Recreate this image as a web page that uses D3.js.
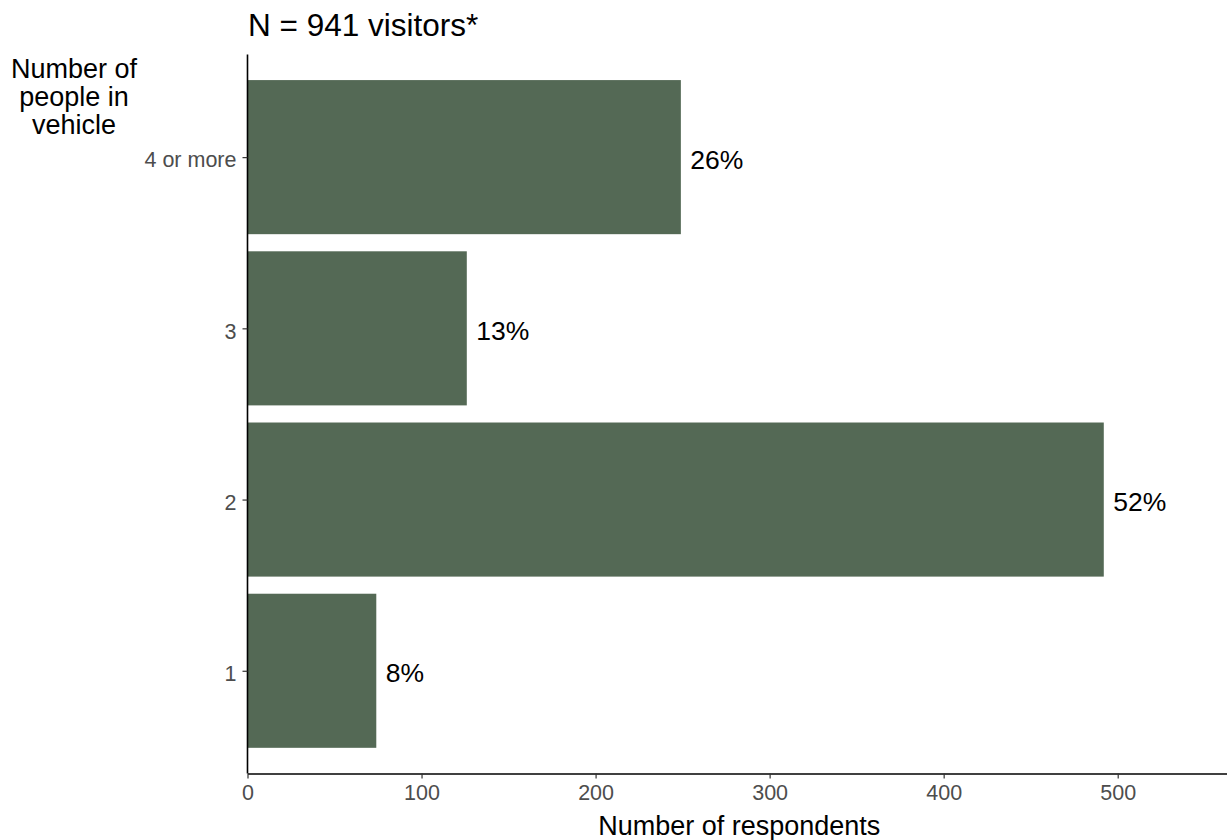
<!DOCTYPE html>
<html>
<head>
<meta charset="utf-8">
<script src="https://cdn.jsdelivr.net/npm/d3@7"></script>
<style>
  html, body { margin: 0; padding: 0; background: #fff; }
  svg { display: block; font-family: "Liberation Sans", Arial, sans-serif; }
</style>
</head>
<body>
<svg id="chart" width="1227" height="840"></svg>
<script>
const categories = ["4 or more", "3", "2", "1"];
const counts = [249, 126, 492, 74];
const percentLabels = ["26%", "13%", "52%", "8%"];
const xTicks = [0, 100, 200, 300, 400, 500];
const titleText = "N = 941 visitors*";
const yTitleLines = ["Number of", "people in", "vehicle"];
const xTitleText = "Number of respondents";

const svg = d3.select("#chart");
const plotLeft = 247.5, plotRight = 1227, plotTop = 54.4, plotBottom = 773.5;

const x = d3.scaleLinear().domain([0, 562.8]).range([plotLeft, plotRight]);
// ggplot-like discrete axis: 0.6 unit expansion each side, bar width 0.9
const n = categories.length;
const step = (plotBottom - plotTop) / (n - 1 + 1.2);
const yCenter = d3.scalePoint().domain(categories).range([plotTop + 0.6 * step, plotBottom - 0.6 * step]);
const barH = 0.9 * step;

const data = categories.map((c, i) => ({ cat: c, v: counts[i], lab: percentLabels[i] }));

svg.append("g").selectAll("rect").data(data).join("rect")
  .attr("x", x(0))
  .attr("y", d => yCenter(d.cat) - barH / 2)
  .attr("width", d => x(d.v) - x(0))
  .attr("height", barH)
  .attr("fill", "#546955");

svg.append("g").selectAll("text").data(data).join("text")
  .attr("x", d => x(d.v) + 9.5)
  .attr("y", d => yCenter(d.cat) + 11.5)
  .attr("font-size", 26.5)
  .attr("fill", "#000")
  .text(d => d.lab);

// x axis
const xAxis = svg.append("g").attr("transform", `translate(0,${plotBottom})`)
  .call(d3.axisBottom(x).tickValues(xTicks).tickSize(5).tickPadding(6).tickSizeOuter(0));
xAxis.select(".domain").attr("stroke", "#000").attr("stroke-width", 1.6);
xAxis.selectAll(".tick line").attr("stroke", "#333").attr("stroke-width", 1.2);
xAxis.selectAll(".tick text").attr("font-size", 21.5).attr("fill", "#4D4D4D")
  .attr("font-family", "Liberation Sans, Arial, sans-serif").attr("dy", "0.71em");

// y axis
const yAxis = svg.append("g").attr("transform", `translate(${plotLeft},0)`)
  .call(d3.axisLeft(yCenter).tickSize(5).tickPadding(6).tickSizeOuter(0));
yAxis.select(".domain").attr("stroke", "#000").attr("stroke-width", 1.6)
  .attr("d", `M0,${plotTop}V${plotBottom}`);
yAxis.selectAll(".tick line").attr("stroke", "#333").attr("stroke-width", 1.2);
yAxis.selectAll(".tick text").attr("font-size", 21.5).attr("fill", "#4D4D4D")
  .attr("font-family", "Liberation Sans, Arial, sans-serif").attr("dy", "0.45em");

// title
svg.append("text").attr("x", 248).attr("y", 36).attr("font-size", 31.5).attr("fill", "#000").text(titleText);

// y title
svg.append("g").selectAll("text").data(yTitleLines).join("text")
  .attr("x", 74).attr("y", (d, i) => 77.5 + i * 28)
  .attr("text-anchor", "middle").attr("font-size", 27).attr("fill", "#000")
  .text(d => d);

// x title
svg.append("text").attr("x", (plotLeft + plotRight) / 2 + 2).attr("y", 835)
  .attr("text-anchor", "middle").attr("font-size", 27).attr("fill", "#000").text(xTitleText);
</script>
</body>
</html>
